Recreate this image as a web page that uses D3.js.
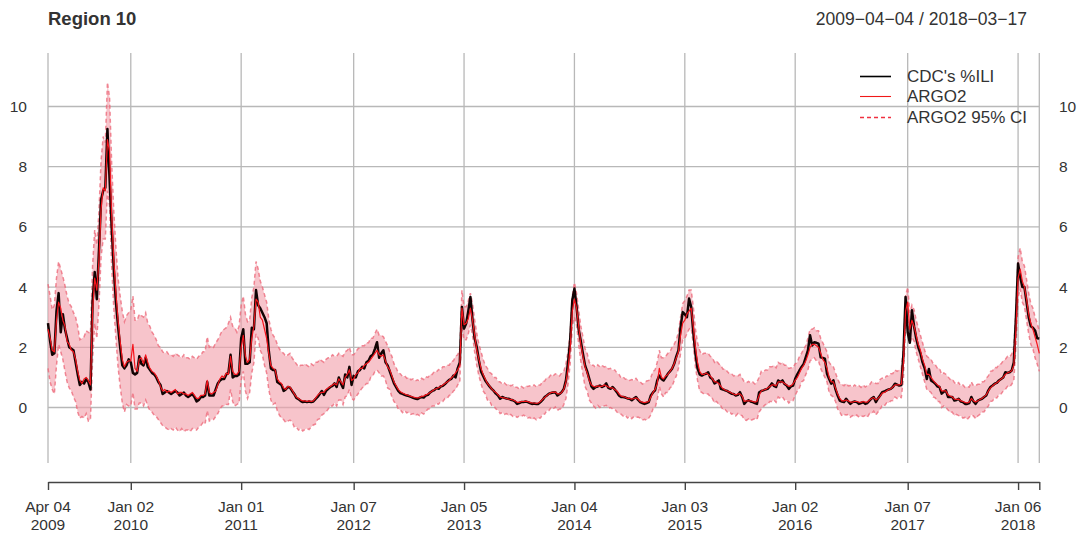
<!DOCTYPE html>
<html>
<head>
<meta charset="utf-8">
<script src="https://cdn.jsdelivr.net/npm/d3@7"></script>
<style>
  body { margin: 0; background: #fff; }
  svg { display: block; }
  text { font-family: "Liberation Sans", Arial, Helvetica, sans-serif; fill: #333; }
</style>
</head>
<body>
<svg id="chart" width="1085" height="538"></svg>
<script>
// Weekly series, one value per week starting on startDate
const chartTitle = "Region 10";
const startDate = "2009-04-04";

const cdcILI = [
  2.8,2.2,1.75,1.8,3.2,3.8,2.5,3.1,2.6,2.3,2.0,1.95,1.9,1.5,1.1,0.75,0.85,0.8,0.95,0.85,0.6,3.5,4.5,3.6,5.2,6.9,7.2,7.3,9.25,7.6,6.0,4.6,3.5,2.7,2.0,1.4,1.3,1.4,1.6,
  1.5,1.15,1.1,1.15,1.7,1.45,1.4,1.65,1.35,1.25,1.15,1.1,1.0,0.85,0.75,0.45,0.5,0.55,0.5,0.45,0.5,0.55,0.5,0.4,0.45,0.5,0.4,0.35,0.4,0.45,0.35,0.2,0.25,0.35,0.35,0.4,0.85,0.4,0.4,0.4,0.6,0.8,0.9,0.95,0.95,1.1,1.15,1.75,1.0,1.05,1.05,1.1,
  2.3,2.6,1.45,1.45,1.5,2.65,2.6,3.9,3.4,3.3,3.15,3.0,2.8,1.9,1.3,1.25,1.25,0.85,0.8,0.75,0.55,0.6,0.68,0.66,0.55,0.45,0.32,0.28,0.22,0.18,0.2,0.18,0.2,0.18,0.2,0.28,0.35,0.45,0.55,0.42,0.55,0.62,0.68,0.72,0.8,0.68,1.0,0.8,0.65,1.1,1.0,1.35,0.75,
  1.05,1.0,1.2,1.25,1.35,1.3,1.5,1.55,1.7,1.75,1.95,2.17,1.65,1.8,1.9,1.5,1.4,1.2,1.0,0.8,0.68,0.55,0.48,0.45,0.42,0.4,0.38,0.35,0.32,0.3,0.28,0.32,0.35,0.33,0.4,0.42,0.5,0.55,0.58,0.65,0.62,0.7,0.72,0.78,0.85,0.92,0.95,1.06,1.0,1.3,1.5,3.34,
  2.62,2.79,3.2,3.67,2.9,2.3,2.0,1.56,1.2,1.05,0.9,0.8,0.7,0.62,0.55,0.46,0.4,0.29,0.35,0.32,0.3,0.29,0.26,0.24,0.2,0.12,0.15,0.18,0.18,0.2,0.18,0.15,0.12,0.13,0.12,0.12,0.18,0.25,0.35,0.4,0.46,0.48,0.5,0.51,0.4,0.45,0.51,0.62,0.9,1.5,2.23,3.56,
  3.95,3.34,2.6,2.2,1.79,1.4,1.2,0.95,0.7,0.62,0.68,0.7,0.73,0.68,0.72,0.8,0.65,0.62,0.68,0.6,0.51,0.4,0.35,0.35,0.33,0.3,0.29,0.24,0.3,0.35,0.25,0.18,0.15,0.12,0.15,0.18,0.4,0.5,0.57,0.9,1.06,0.95,0.9,1.0,1.12,1.2,1.29,1.45,1.7,1.9,2.67,3.17,
  3.1,3.0,3.62,3.34,2.5,1.8,1.3,1.1,1.06,1.1,1.12,1.17,1.0,0.95,0.8,0.85,0.9,0.62,0.6,0.57,0.55,0.5,0.46,0.45,0.4,0.42,0.51,0.35,0.12,0.2,0.24,0.2,0.18,0.15,0.12,0.5,0.55,0.57,0.6,0.62,0.7,0.8,0.72,0.68,0.9,0.85,0.9,0.78,0.73,0.62,0.7,0.73,
  0.95,1.1,1.23,1.35,1.45,1.67,1.9,2.4,2.06,2.17,2.15,2.12,1.67,1.65,1.62,1.12,0.95,0.79,0.9,0.6,0.4,0.23,0.2,0.18,0.29,0.2,0.12,0.18,0.2,0.18,0.12,0.15,0.18,0.12,0.15,0.23,0.3,0.35,0.18,0.3,0.4,0.51,0.53,0.57,0.6,0.62,0.68,0.79,0.76,0.73,0.75,1.79,3.67,
  2.5,2.15,3.23,2.7,2.3,2.0,1.8,1.5,1.3,0.95,1.28,0.9,0.85,0.79,0.7,0.68,0.46,0.52,0.57,0.35,0.35,0.35,0.23,0.25,0.29,0.2,0.18,0.12,0.12,0.15,0.35,0.2,0.12,0.23,0.26,0.29,0.35,0.4,0.57,0.68,0.73,0.79,0.82,0.9,0.95,1.0,1.17,1.15,1.17,1.23,1.5,3.0,
  4.78,4.34,4.0,4.0,3.5,3.0,2.7,2.65,2.56,2.3,2.29
];

const argo2 = [
  2.6,2.3,1.9,1.85,2.9,3.5,3.3,2.9,2.7,2.2,2.1,1.9,1.85,1.6,1.2,0.9,0.8,0.95,1.0,0.9,0.75,3.2,4.3,3.9,4.9,6.6,7.3,7.2,8.9,8.5,6.4,4.9,3.8,2.9,2.2,1.6,1.35,1.5,1.55,
  1.55,2.1,1.3,1.2,1.6,1.65,1.45,1.75,1.5,1.3,1.2,1.15,1.05,0.9,0.7,0.55,0.6,0.5,0.55,0.5,0.55,0.6,0.45,0.5,0.5,0.45,0.45,0.4,0.45,0.5,0.4,0.3,0.3,0.4,0.4,0.45,0.9,0.5,0.45,0.5,0.55,0.75,0.95,1.05,1.0,1.15,1.1,1.7,1.2,1.1,1.1,1.2,
  2.0,2.4,1.7,1.5,1.6,2.3,2.7,3.6,3.5,3.0,2.9,2.6,2.3,1.8,1.4,1.3,1.25,0.95,0.85,0.8,0.65,0.6,0.7,0.68,0.58,0.45,0.35,0.3,0.25,0.22,0.22,0.2,0.22,0.2,0.22,0.3,0.4,0.48,0.5,0.5,0.6,0.65,0.7,0.75,0.8,0.75,0.95,0.85,0.75,1.0,1.1,1.25,0.9,
  0.95,1.1,1.15,1.3,1.3,1.4,1.45,1.5,1.6,1.7,1.8,1.9,1.75,1.7,1.75,1.55,1.35,1.25,1.05,0.85,0.72,0.6,0.52,0.48,0.45,0.42,0.4,0.37,0.35,0.33,0.32,0.33,0.37,0.38,0.42,0.45,0.5,0.55,0.6,0.63,0.66,0.7,0.75,0.8,0.85,0.9,0.98,1.05,1.15,1.25,1.4,3.3,
  2.75,2.8,2.95,3.3,2.9,2.4,1.9,1.6,1.3,1.1,0.95,0.8,0.72,0.62,0.55,0.5,0.42,0.35,0.33,0.32,0.3,0.28,0.27,0.25,0.22,0.17,0.17,0.2,0.2,0.21,0.2,0.17,0.15,0.15,0.14,0.15,0.2,0.27,0.33,0.4,0.45,0.5,0.5,0.52,0.45,0.45,0.5,0.6,0.85,1.3,2.0,3.2,
  3.6,3.3,2.7,2.1,1.7,1.35,1.15,0.9,0.75,0.7,0.68,0.72,0.7,0.7,0.75,0.72,0.68,0.65,0.65,0.6,0.55,0.45,0.38,0.36,0.34,0.3,0.3,0.28,0.3,0.32,0.28,0.2,0.18,0.16,0.18,0.2,0.35,0.5,0.6,0.8,1.3,1.0,0.95,1.05,1.1,1.2,1.3,1.45,1.65,1.85,2.4,2.8,
  2.9,3.1,3.2,3.3,2.7,2.0,1.5,1.2,1.1,1.1,1.15,1.1,1.05,0.95,0.85,0.85,0.8,0.7,0.62,0.58,0.55,0.52,0.48,0.45,0.42,0.45,0.45,0.38,0.2,0.22,0.22,0.22,0.2,0.18,0.2,0.4,0.55,0.58,0.6,0.65,0.7,0.75,0.75,0.72,0.85,0.85,0.85,0.8,0.75,0.7,0.72,0.78,
  0.9,1.0,1.15,1.3,1.4,1.55,1.75,2.0,2.1,2.1,2.05,2.0,1.8,1.6,1.5,1.3,1.0,0.85,0.85,0.65,0.45,0.3,0.22,0.22,0.25,0.22,0.18,0.18,0.2,0.2,0.18,0.17,0.2,0.18,0.18,0.25,0.3,0.33,0.25,0.3,0.38,0.48,0.5,0.55,0.6,0.62,0.68,0.75,0.75,0.75,0.78,1.5,3.2,
  3.5,2.6,2.9,2.7,2.4,2.1,1.9,1.6,1.4,1.1,1.1,1.0,0.9,0.82,0.75,0.7,0.55,0.55,0.55,0.42,0.38,0.35,0.28,0.27,0.28,0.22,0.2,0.17,0.15,0.18,0.3,0.22,0.18,0.22,0.27,0.3,0.36,0.42,0.55,0.65,0.72,0.78,0.82,0.88,0.95,1.0,1.1,1.15,1.18,1.22,1.4,2.6,
  4.3,4.6,4.2,4.0,3.6,3.1,2.8,2.6,2.35,2.1,1.8
];

const ciUpper = [
  4.1,3.7,3.25,3.4,4.3,4.85,4.6,4.35,4.05,3.7,3.45,3.35,3.15,3.0,2.7,2.25,2.3,2.35,2.55,2.5,2.45,4.7,5.9,5.4,6.5,8.2,9.0,8.8,10.8,10.3,8.1,6.5,5.3,4.3,3.7,3.2,2.85,3.05,3.15,
  3.25,3.7,2.9,2.9,3.1,3.05,3.0,3.15,2.8,2.7,2.5,2.4,2.25,2.05,2.0,1.85,1.8,1.85,1.75,1.75,1.7,1.8,1.75,1.7,1.65,1.75,1.65,1.65,1.6,1.7,1.65,1.6,1.7,1.75,1.85,1.85,2.35,2.0,2.05,2.0,2.15,2.25,2.4,2.55,2.6,2.65,2.8,3.0,2.7,2.65,2.5,2.7,
  3.4,3.7,3.1,2.85,2.9,3.65,4.0,4.85,4.6,4.2,4.0,3.75,3.5,2.95,2.6,2.4,2.3,2.1,1.95,1.85,1.8,1.7,1.75,1.8,1.65,1.55,1.45,1.35,1.4,1.4,1.45,1.4,1.35,1.45,1.4,1.5,1.5,1.6,1.55,1.5,1.6,1.65,1.65,1.75,1.7,1.7,1.8,1.75,1.7,1.85,1.9,2.0,1.75,
  1.75,1.85,1.95,2.0,2.05,2.05,2.15,2.15,2.3,2.3,2.45,2.6,2.4,2.4,2.35,2.2,2.05,1.85,1.7,1.45,1.32,1.15,1.12,1.03,1.05,0.97,1.0,0.92,0.95,0.88,0.92,0.88,0.97,0.93,1.02,1.0,1.1,1.1,1.2,1.18,1.26,1.25,1.35,1.35,1.4,1.4,1.53,1.55,1.7,1.75,1.95,3.9,
  3.35,3.35,3.55,3.8,3.45,2.9,2.45,2.1,1.85,1.6,1.4,1.3,1.17,1.12,1.0,1.0,0.87,0.85,0.78,0.82,0.75,0.78,0.72,0.75,0.67,0.67,0.62,0.7,0.65,0.71,0.7,0.72,0.7,0.75,0.69,0.75,0.75,0.87,0.88,1.0,1.0,1.1,1.05,1.12,1.1,1.05,1.15,1.2,1.45,1.85,2.5,3.7,
  4.15,3.8,3.25,2.7,2.35,1.95,1.8,1.5,1.4,1.4,1.33,1.42,1.35,1.4,1.35,1.37,1.28,1.3,1.25,1.25,1.15,1.1,0.98,1.01,0.94,0.95,0.9,0.93,0.9,0.97,0.88,0.85,0.78,0.81,0.88,0.9,1.0,1.2,1.25,1.5,1.9,1.65,1.65,1.7,1.8,1.85,2.0,2.1,2.25,2.5,3.0,3.45,
  3.55,3.7,3.9,3.9,3.35,2.6,2.15,1.9,1.75,1.8,1.8,1.8,1.7,1.65,1.5,1.55,1.45,1.4,1.27,1.28,1.2,1.12,1.13,1.05,1.07,1.05,1.1,0.98,0.85,0.82,0.87,0.82,0.85,0.78,0.85,1.0,1.2,1.18,1.25,1.25,1.35,1.35,1.4,1.32,1.5,1.45,1.5,1.4,1.4,1.3,1.32,1.33,
  1.45,1.5,1.7,1.8,1.95,2.05,2.3,2.6,2.6,2.65,2.55,2.55,2.3,2.15,2.0,1.85,1.5,1.4,1.35,1.15,0.95,0.8,0.77,0.72,0.8,0.72,0.73,0.68,0.75,0.7,0.73,0.67,0.75,0.68,0.73,0.75,0.85,0.83,0.8,0.8,0.93,0.98,0.95,1.05,1.05,1.12,1.13,1.25,1.2,1.25,1.28,2.0,3.7,
  4.0,3.15,3.4,3.25,2.9,2.65,2.4,2.15,1.9,1.7,1.65,1.6,1.45,1.42,1.3,1.3,1.1,1.15,1.1,1.02,0.93,0.95,0.83,0.77,0.83,0.72,0.75,0.67,0.7,0.68,0.85,0.72,0.73,0.77,0.77,0.85,0.86,0.97,1.05,1.2,1.22,1.33,1.32,1.43,1.45,1.55,1.6,1.7,1.68,1.77,2.0,3.2,
  5.0,5.3,4.85,4.7,4.25,3.8,3.45,3.3,3.0,2.8,2.55
];

const ciLower = [
  1.3,0.85,0.6,0.45,1.4,2.1,1.85,1.6,1.2,0.85,0.65,0.55,0.35,0.2,-0.15,-0.35,-0.3,-0.35,-0.2,-0.45,-0.4,1.6,2.8,2.3,3.4,5.0,5.6,5.6,7.2,6.7,4.7,3.3,2.3,1.35,0.7,0.15,-0.15,0.1,0.05,
  0.05,0.5,-0.05,-0.05,0.15,0.15,0.05,0.25,0.05,-0.1,-0.15,-0.25,-0.3,-0.4,-0.5,-0.6,-0.65,-0.7,-0.75,-0.7,-0.75,-0.65,-0.75,-0.8,-0.7,-0.8,-0.75,-0.75,-0.8,-0.7,-0.7,-0.75,-0.65,-0.6,-0.5,-0.55,-0.1,-0.45,-0.4,-0.4,-0.3,-0.2,-0.05,0.05,0.05,0.1,0.1,0.6,0.2,0.05,0.1,0.15,
  0.9,1.2,0.55,0.3,0.5,1.15,1.5,2.45,2.3,1.9,1.75,1.4,1.15,0.6,0.25,0.1,0.15,-0.1,-0.25,-0.35,-0.4,-0.5,-0.45,-0.42,-0.47,-0.65,-0.65,-0.75,-0.7,-0.78,-0.73,-0.7,-0.73,-0.65,-0.58,-0.55,-0.4,-0.37,-0.25,-0.2,-0.15,-0.05,0.05,0.05,0.15,0.05,0.25,0.25,0.1,0.35,0.4,0.6,0.3,
  0.25,0.35,0.45,0.55,0.65,0.7,0.8,0.8,1.0,1.05,1.2,1.25,1.15,1.05,1.05,0.9,0.65,0.6,0.35,0.2,0.12,-0.05,-0.08,-0.17,-0.1,-0.18,-0.15,-0.23,-0.2,-0.27,-0.23,-0.27,-0.18,-0.22,-0.13,-0.05,-0.05,0.05,0.05,0.13,0.11,0.2,0.2,0.3,0.3,0.4,0.43,0.55,0.6,0.75,0.85,2.7,
  2.25,2.25,2.45,2.75,2.4,1.85,1.4,1.05,0.8,0.55,0.45,0.25,0.22,0.07,0.05,-0.05,-0.08,-0.2,-0.17,-0.23,-0.2,-0.27,-0.23,-0.3,-0.28,-0.33,-0.28,-0.3,-0.25,-0.29,-0.35,-0.33,-0.4,-0.35,-0.41,-0.35,-0.35,-0.23,-0.22,-0.1,-0.1,0.0,-0.05,0.02,-0.1,-0.05,-0.05,0.1,0.3,0.8,1.45,2.7,
  3.0,2.75,2.1,1.55,1.1,0.7,0.55,0.25,0.15,0.05,-0.02,0.07,0.0,0.05,0.05,0.07,-0.02,0.0,-0.05,-0.05,-0.15,-0.2,-0.22,-0.29,-0.26,-0.35,-0.3,-0.37,-0.3,-0.33,-0.32,-0.35,-0.42,-0.39,-0.42,-0.35,-0.25,-0.05,0.0,0.25,0.7,0.45,0.35,0.5,0.5,0.65,0.7,0.9,1.05,1.3,1.8,2.25,
  2.3,2.45,2.6,2.65,2.1,1.35,0.9,0.55,0.5,0.45,0.45,0.45,0.35,0.3,0.15,0.2,0.1,0.05,-0.08,-0.07,-0.15,-0.13,-0.22,-0.2,-0.28,-0.2,-0.25,-0.27,-0.4,-0.43,-0.38,-0.43,-0.4,-0.37,-0.4,-0.15,-0.05,0.03,0.1,0.1,0.2,0.2,0.25,0.17,0.35,0.3,0.35,0.25,0.25,0.15,0.22,0.23,
  0.4,0.55,0.65,0.85,0.9,1.1,1.25,1.55,1.6,1.65,1.55,1.55,1.3,1.15,1.0,0.85,0.5,0.4,0.35,0.2,-0.05,-0.15,-0.28,-0.23,-0.25,-0.23,-0.32,-0.27,-0.3,-0.25,-0.32,-0.28,-0.3,-0.27,-0.32,-0.2,-0.2,-0.12,-0.25,-0.15,-0.07,0.08,0.05,0.15,0.15,0.22,0.23,0.35,0.3,0.35,0.33,1.0,2.75,
  3.0,2.1,2.35,2.2,1.85,1.6,1.35,1.1,0.85,0.6,0.55,0.5,0.35,0.32,0.2,0.2,0.0,0.05,0.0,-0.08,-0.17,-0.15,-0.27,-0.23,-0.27,-0.28,-0.35,-0.33,-0.4,-0.32,-0.25,-0.28,-0.37,-0.28,-0.23,-0.15,-0.14,-0.03,0.05,0.2,0.22,0.33,0.32,0.43,0.45,0.55,0.6,0.7,0.68,0.77,0.9,2.05,
  3.65,3.95,3.5,3.35,2.9,2.45,2.1,1.95,1.65,1.45,1.2
];

const xTickDates = ["2009-04-04","2010-01-02","2011-01-01","2012-01-07","2013-01-05",
                    "2014-01-04","2015-01-03","2016-01-02","2017-01-07","2018-01-06"];
const yTicks = [0, 2, 4, 6, 8, 10];
const legendLabels = ["CDC's %ILI", "ARGO2", "ARGO2 95% CI"];

// ---- layout ----
const svg = d3.select("#chart");
const plotLeft = 48, plotRight = 1039.3, gridTop = 53, gridBottom = 463, axisY = 482;

const parse = d3.utcParse("%Y-%m-%d");
const start = parse(startDate);
const dates = cdcILI.map((_, i) => d3.utcDay.offset(start, 7 * i));
const endDate = dates[dates.length - 1];

const x = d3.scaleUtc().domain([start, endDate]).range([plotLeft, plotRight]);
const y = d3.scaleLinear().domain([0, 10]).range([407.5, 106.5]);

const gridColor = "#b8b8b8";

// horizontal grid
svg.append("g").selectAll("line").data(yTicks).join("line")
  .attr("x1", plotLeft).attr("x2", plotRight)
  .attr("y1", d => y(d)).attr("y2", d => y(d))
  .attr("stroke", gridColor).attr("stroke-width", 1.3);

// vertical grid at the date ticks plus the last observation
const vDates = xTickDates.map(parse).concat([endDate]);
svg.append("g").selectAll("line").data(vDates).join("line")
  .attr("x1", d => x(d)).attr("x2", d => x(d))
  .attr("y1", gridTop).attr("y2", gridBottom)
  .attr("stroke", gridColor).attr("stroke-width", 1.3);

// 95% interval band
const band = d3.area()
  .x((d, i) => x(dates[i]))
  .y0((d, i) => y(ciLower[i]))
  .y1((d, i) => y(ciUpper[i]));
svg.append("path").datum(cdcILI).attr("d", band)
  .attr("fill", "#f2a0ab").attr("fill-opacity", 0.62);

const lineOf = arr => d3.line().x((d, i) => x(dates[i])).y(d => y(d))(arr);

[ciLower, ciUpper].forEach(arr => {
  svg.append("path").attr("d", lineOf(arr))
    .attr("fill", "none").attr("stroke", "#ec6476").attr("stroke-opacity", 0.75)
    .attr("stroke-width", 1.5).attr("stroke-dasharray", "4,3");
});

// observed %ILI
svg.append("path").attr("d", lineOf(cdcILI))
  .attr("fill", "none").attr("stroke", "#120404").attr("stroke-width", 2.5)
  .attr("stroke-linejoin", "round");

// ARGO2 estimate
svg.append("path").attr("d", lineOf(argo2))
  .attr("fill", "none").attr("stroke", "#f5141c").attr("stroke-width", 1.2)
  .attr("stroke-linejoin", "round");

// y labels both sides
const ylab = svg.append("g").style("font-size", "15.5px");
ylab.selectAll(".yl").data(yTicks).join("text")
  .attr("x", 27).attr("y", d => y(d)).attr("dy", "0.36em")
  .attr("text-anchor", "end").text(d => d);
ylab.selectAll(".yr").data(yTicks).join("text")
  .attr("x", 1059).attr("y", d => y(d)).attr("dy", "0.36em")
  .attr("text-anchor", "start").text(d => d);

// bottom axis
const axis = d3.axisBottom(x).tickValues(vDates).tickSize(8).tickFormat("").tickSizeOuter(0);
const gAxis = svg.append("g").attr("transform", `translate(0,${axisY})`).call(axis);
gAxis.select(".domain").attr("stroke", "#444").attr("stroke-width", 1.4);
gAxis.selectAll(".tick line").attr("stroke", "#444").attr("stroke-width", 1.4);

const fmtMD = d3.utcFormat("%b %d"), fmtY = d3.utcFormat("%Y");
const xl = svg.append("g").style("font-size", "15.5px").attr("text-anchor", "middle");
xTickDates.map(parse).forEach(d => {
  xl.append("text").attr("x", x(d)).attr("y", 512).text(fmtMD(d));
  xl.append("text").attr("x", x(d)).attr("y", 530).text(fmtY(d));
});

// title and date range
svg.append("text").attr("x", 48).attr("y", 25)
  .style("font-size", "18.5px").style("font-weight", "bold").text(chartTitle);
const fmtFull = d3.utcFormat("%Y-%m-%d");
svg.append("text").attr("x", 1027).attr("y", 25).attr("text-anchor", "end")
  .style("font-size", "17.5px")
  .text(`${fmtFull(start)} / ${fmtFull(endDate)}`.replace(/-/g, "\u2212"));

// legend
const leg = svg.append("g").style("font-size", "17px");
const legStyles = [
  {stroke: "#000", width: 1.6, dash: null},
  {stroke: "#f01818", width: 1.1, dash: null},
  {stroke: "#f03040", width: 1.3, dash: "4,3"}
];
const legBase = [82, 102, 123];
legendLabels.forEach((label, i) => {
  leg.append("line").attr("x1", 860).attr("x2", 891)
    .attr("y1", legBase[i] - 5.5).attr("y2", legBase[i] - 5.5)
    .attr("stroke", legStyles[i].stroke).attr("stroke-width", legStyles[i].width)
    .attr("stroke-dasharray", legStyles[i].dash);
  leg.append("text").attr("x", 907).attr("y", legBase[i]).text(label);
});
</script>
</body>
</html>
